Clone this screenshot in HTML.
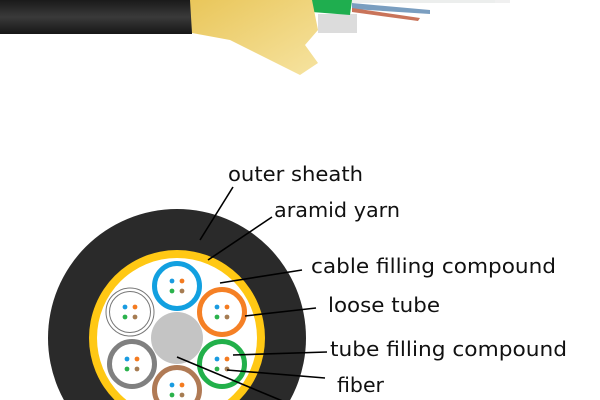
<!DOCTYPE html>
<html><head><meta charset="utf-8"><style>
html,body{margin:0;padding:0;background:#fff;width:600px;height:400px;overflow:hidden}
svg{display:block}
text{font-family:"DejaVu Sans","Liberation Sans",sans-serif;font-size:20px;fill:#111}
</style></head><body>
<svg width="600" height="400" viewBox="0 0 600 400" xmlns="http://www.w3.org/2000/svg">
<defs>
<linearGradient id="blk" x1="0" y1="0" x2="0" y2="1">
<stop offset="0" stop-color="#1a1a1a"/><stop offset="0.5" stop-color="#3a3a3a"/><stop offset="1" stop-color="#161616"/>
</linearGradient>
<linearGradient id="yl" x1="0" y1="0" x2="1" y2="1">
<stop offset="0" stop-color="#e9c65a"/><stop offset="1" stop-color="#f6e3a0"/>
</linearGradient>
<g id="dots">
<circle cx="-5" cy="-5" r="2.4" fill="#1a9be0"/>
<circle cx="5" cy="-5" r="2.4" fill="#f47b20"/>
<circle cx="-5" cy="5" r="2.4" fill="#2bb24c"/>
<circle cx="5" cy="5" r="2.4" fill="#a67c52"/>
</g>
</defs>
<!-- top photo -->
<rect x="0" y="0" width="192" height="34" fill="url(#blk)"/>
<rect x="490" y="0" width="20" height="3" fill="#f0f0f0"/>
<rect x="350" y="0" width="145" height="3" fill="#eceeed"/>
<path d="M352 3 L430 10 L430 14 L352 9Z" fill="#7a9ec0"/>
<path d="M352 8 L420 18 L418 21 L352 12Z" fill="#c9745a"/>
<path d="M318 14 L357 14 L357 33 L318 33Z" fill="#dcdcdc"/>
<path d="M310 0 L352 0 L350 15 L312 12Z" fill="#1fae4f"/>
<path d="M190 0 L312 0 L318 30 L305 45 L318 63 L300 75 L260 55 L230 40 L192 33Z" fill="url(#yl)"/>
<!-- cable cross-section -->
<circle cx="177" cy="338" r="129" fill="#2a2a2a"/>
<circle cx="177" cy="338" r="88" fill="#ffc814"/>
<circle cx="177" cy="338" r="80" fill="#fff"/>
<circle cx="177" cy="338" r="26" fill="#c4c4c4"/>
<!-- tubes -->
<g transform="translate(177,286)"><circle r="22.5" fill="#fff" stroke="#12a0e0" stroke-width="5"/><use href="#dots"/></g>
<g transform="translate(222,312)"><circle r="22.5" fill="#fff" stroke="#f58025" stroke-width="5"/><use href="#dots"/></g>
<g transform="translate(222,364)"><circle r="22.5" fill="#fff" stroke="#22b04a" stroke-width="5"/><use href="#dots"/></g>
<g transform="translate(177,390)"><circle r="22.5" fill="#fff" stroke="#b07a55" stroke-width="5"/><use href="#dots"/></g>
<g transform="translate(132,364)"><circle r="22.5" fill="#fff" stroke="#808080" stroke-width="5"/><use href="#dots"/></g>
<g transform="translate(130,312)"><circle r="24" fill="#fff" stroke="#777" stroke-width="1"/><circle r="20.5" fill="#fff" stroke="#777" stroke-width="1"/><use href="#dots"/></g>
<!-- leader lines -->
<g stroke="#000" stroke-width="1.6" fill="none">
<line x1="233" y1="187" x2="200" y2="240"/>
<line x1="272" y1="217" x2="208" y2="260"/>
<line x1="302" y1="270" x2="220" y2="283"/>
<line x1="316" y1="308" x2="245" y2="316"/>
<line x1="327" y1="352" x2="233" y2="355"/>
<line x1="325" y1="378" x2="227" y2="370"/>
<line x1="177" y1="357" x2="285" y2="402"/>
</g>
<text x="228" y="181" textLength="135" lengthAdjust="spacingAndGlyphs">outer sheath</text>
<text x="274" y="217" textLength="126" lengthAdjust="spacingAndGlyphs">aramid yarn</text>
<text x="311" y="273" textLength="245" lengthAdjust="spacingAndGlyphs">cable filling compound</text>
<text x="328" y="312" textLength="112" lengthAdjust="spacingAndGlyphs">loose tube</text>
<text x="330" y="356" textLength="237" lengthAdjust="spacingAndGlyphs">tube filling compound</text>
<text x="337" y="392" textLength="47" lengthAdjust="spacingAndGlyphs">fiber</text>
</svg>
</body></html>
